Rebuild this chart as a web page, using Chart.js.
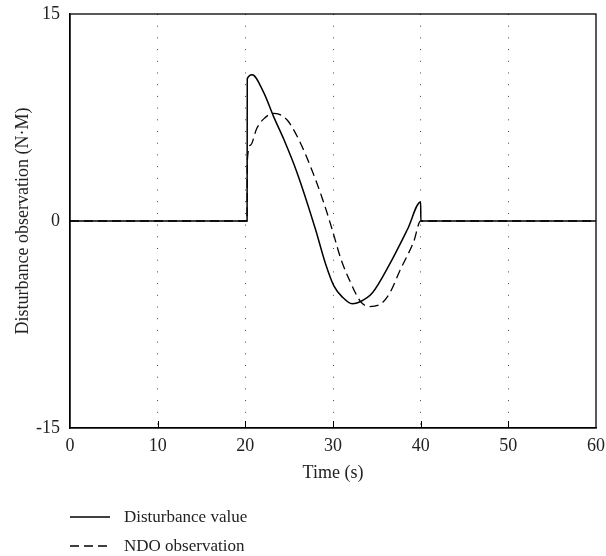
<!DOCTYPE html>
<html>
<head>
<meta charset="utf-8">
<script src="https://cdn.jsdelivr.net/npm/chart.js@4.4.0/dist/chart.umd.min.js"></script>
<style>
  body { margin: 0; background: #fff; }
  #wrap { position: relative; width: 606px; height: 556px; }
  .leg { position: absolute; left: 70px; height: 20px; display: flex; align-items: center;
         font: 17px "Liberation Serif", serif; color: #222; }
  .leg svg { margin-right: 14px; }
</style>
</head>
<body>
<div id="wrap">
  <canvas id="chart" width="606" height="556"></canvas>
  <div class="leg" style="top:507px">
    <svg width="40" height="4"><line x1="0" y1="2" x2="40" y2="2" stroke="#000" stroke-width="1.3"/></svg>
    <span>Disturbance value</span>
  </div>
  <div class="leg" style="top:536px">
    <svg width="40" height="4"><line x1="0" y1="2" x2="40" y2="2" stroke="#000" stroke-width="1.3" stroke-dasharray="9,5"/></svg>
    <span>NDO observation</span>
  </div>
</div>
<script>
// time (s) and value (N·M)
const distTime  = [0, 20.2, 20.22, 20.77, 22.1, 23.2, 24.4, 25.9, 28.0, 29.1, 30.1, 31.05, 32.2, 33.1, 34.5, 36.4, 38.5, 40.0, 40.02, 60];
const distValue = [0, 0, 10.3, 10.6, 9.3, 7.6, 5.9, 3.5, -0.6, -3.0, -4.7, -5.5, -6.0, -5.85, -5.2, -3.2, -0.6, 1.38, 0, 0];

const ndoTime  = [0, 20.2, 20.22, 20.6, 21.3, 22.1, 23.2, 23.8, 24.8, 26.1, 27.4, 28.8, 29.9, 30.9, 32.0, 33.1, 34.1, 35.2, 36.4, 37.7, 39.2, 40.0, 60];
const ndoValue = [0, 0, 4.3, 5.5, 6.7, 7.4, 7.8, 7.75, 7.3, 5.9, 4.0, 1.6, -0.6, -2.75, -4.45, -5.8, -6.2, -6.1, -5.3, -3.5, -1.5, 0, 0];

const xTicks = [0, 10, 20, 30, 40, 50, 60];
const yTicks = [-15, 0, 15];

const font = { family: '"Liberation Serif", serif', size: 18 };

function toPoints(xs, ys) {
    return xs.map((x, i) => ({ x: x, y: ys[i] }));
}

// box round the plot and the short inward ticks on the time axis
const frame = {
    id: 'frame',
    afterDraw(chart) {
        const { ctx, chartArea: a, scales } = chart;
        ctx.save();
        ctx.strokeStyle = '#000';
        ctx.lineWidth = 1.3;
        ctx.strokeRect(a.left, a.top, a.right - a.left, a.bottom - a.top);
        ctx.lineWidth = 1;
        xTicks.slice(1, -1).forEach(v => {
            const px = Math.round(scales.x.getPixelForValue(v)) + 0.5;
            ctx.beginPath();
            ctx.moveTo(px, a.bottom);
            ctx.lineTo(px, a.bottom - 7);
            ctx.stroke();
        });
        ctx.restore();
    }
};

const config = {
    type: 'line',
    data: {
        datasets: [{
            label: 'NDO observation',
            data: toPoints(ndoTime, ndoValue),
            borderColor: '#000',
            borderWidth: 1.3,
            borderDash: [9, 5],
            pointRadius: 0,
            cubicInterpolationMode: 'monotone',
        }, {
            label: 'Disturbance value',
            data: toPoints(distTime, distValue),
            borderColor: '#000',
            borderWidth: 1.5,
            pointRadius: 0,
            cubicInterpolationMode: 'monotone',
        }]
    },
    options: {
        responsive: false,
        animation: false,
        layout: { padding: { left: 0, top: 14, right: 10, bottom: 68 } },
        plugins: { legend: { display: false }, tooltip: { enabled: false } },
        scales: {
            x: {
                type: 'linear',
                min: 0,
                max: 60,
                afterBuildTicks: s => { s.ticks = xTicks.map(v => ({ value: v })); },
                afterFit: s => { s.height = 60; s.paddingLeft = 0; s.paddingRight = 0; },
                ticks: { font: font, color: '#222', padding: 7, maxRotation: 0 },
                grid: {
                    drawTicks: false,
                    color: c => (c.tick && (c.tick.value === 0 || c.tick.value === 60)) ? 'rgba(0,0,0,0)' : '#444',
                    lineWidth: 1,
                },
                border: { display: true, color: '#000', width: 1.3, dash: [1, 10.7] },
                title: { display: true, text: 'Time (s)', font: font, color: '#222', padding: { top: 0, bottom: 4 } },
            },
            y: {
                min: -15,
                max: 15,
                afterBuildTicks: s => { s.ticks = yTicks.map(v => ({ value: v })); },
                afterFit: s => { s.width = 70; s.paddingTop = 0; s.paddingBottom = 0; },
                ticks: { font: font, color: '#222', padding: 10 },
                grid: { display: false, drawTicks: false },
                border: { display: true, color: '#000', width: 1.3 },
                title: { display: true, text: 'Disturbance observation (N·M)', font: font, color: '#222', padding: { top: 12, bottom: 0 } },
            }
        }
    },
    plugins: [frame]
};

const myChart = new Chart(document.getElementById('chart'), config);
</script>
</body>
</html>
